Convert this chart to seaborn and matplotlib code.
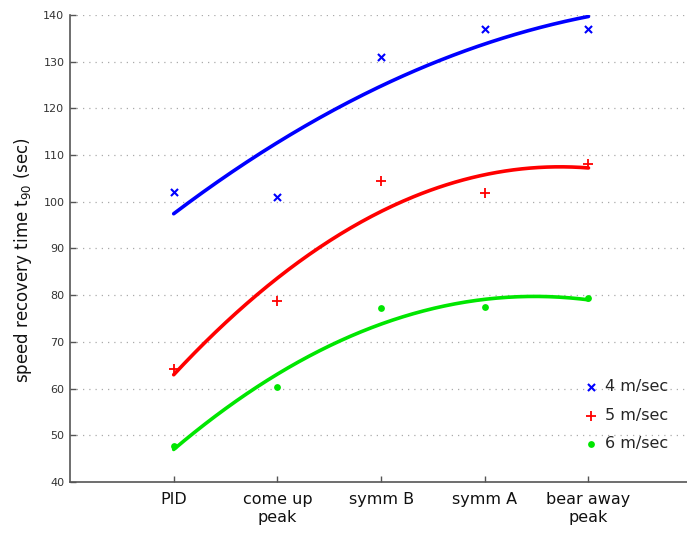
import numpy as np
import pandas as pd
import seaborn as sns
import matplotlib
matplotlib.use("Agg")
import matplotlib.pyplot as plt

categories = ["PID", "come up\npeak", "symm B", "symm A", "bear away\npeak"]
series_names = ["4 m/sec", "5 m/sec", "6 m/sec"]
v4 = [102.2, 101.1, 131.0, 137.1, 137.0]
v5 = [64.3, 78.8, 104.5, 101.9, 108.1]
v6 = [47.8, 60.3, 77.2, 77.4, 79.3]
yticks = [40, 50, 60, 70, 80, 90, 100, 110, 120, 130, 140]

colors = {"4 m/sec": (0, 0, 1), "5 m/sec": (1, 0, 0), "6 m/sec": (0, 0.9, 0)}

sns.set_theme(style="white")
plt.rcParams['font.family'] = ['DejaVu Sans']

xpos = np.arange(1, len(categories) + 1)
rows = []
for name, vals in zip(series_names, [v4, v5, v6]):
    for x, v in zip(xpos, vals):
        rows.append({"x": x, "y": v, "series": name})
df = pd.DataFrame(rows)

# quadratic least-squares fits of each series
fit_rows = []
xf = np.linspace(1, len(categories), 200)
for name, vals in zip(series_names, [v4, v5, v6]):
    p = np.polyfit(xpos, vals, 2)
    for x, y in zip(xf, np.polyval(p, xf)):
        fit_rows.append({"x": x, "y": y, "series": name})
fit = pd.DataFrame(fit_rows)

fig = plt.figure(figsize=(6.87, 5.36), dpi=100)
ax = fig.add_axes([70/687, 54/536, 1 - 70/687, (482-15)/536])

sns.lineplot(data=fit, x="x", y="y", hue="series", palette=colors, ax=ax,
             linewidth=2.6, legend=False, sort=False)

for name in series_names:
    sub = df[df.series == name]
    if name == "4 m/sec":
        ax.scatter(sub.x, sub.y, marker="x", s=26, color=colors[name],
                   linewidths=1.5, label=name, zorder=3)
    elif name == "5 m/sec":
        ax.scatter(sub.x, sub.y, marker="+", s=42, color=colors[name],
                   linewidths=1.3, label=name, zorder=3)
    else:
        ax.scatter(sub.x, sub.y, marker="o", s=24, color=colors[name],
                   linewidths=0, label=name, zorder=3)

ax.set_xlim(0, 5.95)
ax.set_ylim(40, 140)
ax.set_xticks(xpos)
ax.set_xticklabels(categories, fontsize=11.5, color="#111111", linespacing=1.3)
ax.set_yticks(yticks)
ax.set_yticklabels([str(t) for t in yticks], fontsize=8, color="#333333")
ax.set_xlabel("")
ax.set_ylabel(r"speed recovery time t$_{\mathregular{90}}$ (sec)", fontsize=12,
              color="#111111")
ax.yaxis.set_label_coords(-0.058, 0.475)

for yv in yticks[1:]:
    ax.axhline(yv, color="#aaaaaa", linewidth=0.9, linestyle=(0, (1, 4)), zorder=0)

for s in ["top", "right"]:
    ax.spines[s].set_visible(False)
for s in ["left", "bottom"]:
    ax.spines[s].set_color("#555555")
    ax.spines[s].set_linewidth(1.2)
ax.tick_params(axis="both", direction="in", length=4, width=1, color="#555555",
               left=True, bottom=True)
ax.tick_params(axis="x", pad=7)
ax.tick_params(axis="y", pad=4)

leg = ax.legend(loc="lower right", frameon=False, fontsize=11.5,
                handletextpad=0.3, handlelength=1.2, borderaxespad=0.2,
                bbox_to_anchor=(0.985, 0.045), labelspacing=0.85)

fig.savefig("out.png", dpi=100)
